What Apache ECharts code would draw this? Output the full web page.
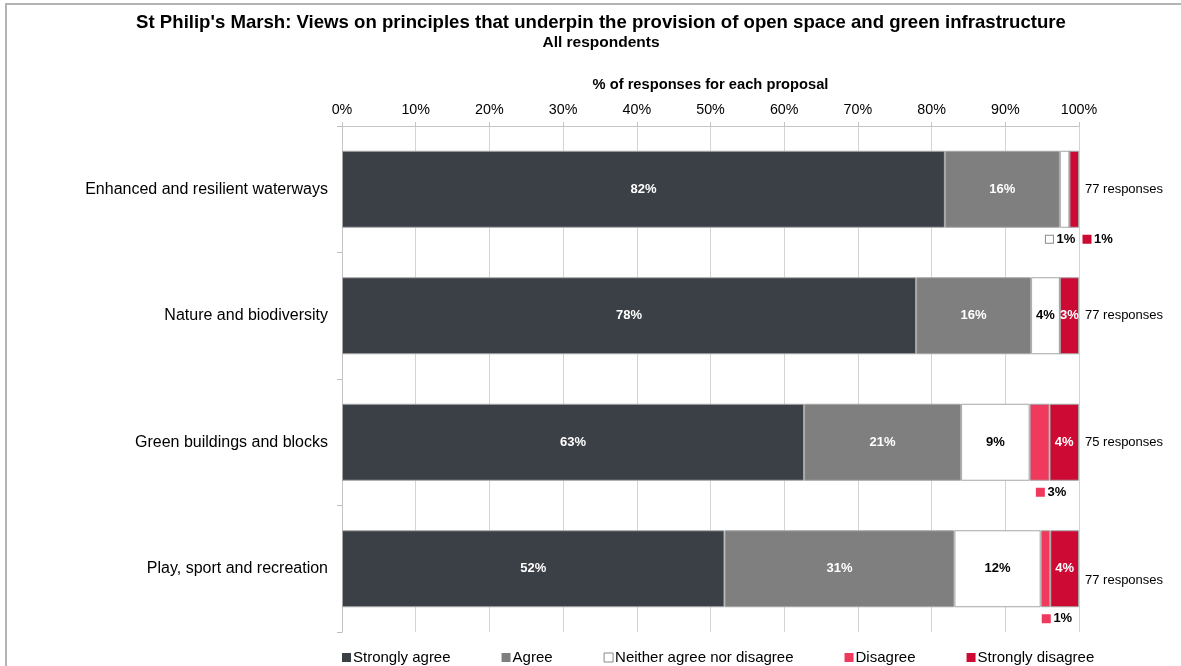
<!DOCTYPE html>
<html>
<head>
<meta charset="utf-8">
<script src="https://cdn.jsdelivr.net/npm/echarts@6/dist/echarts.min.js"></script>
<style>
  html, body { margin: 0; padding: 0; background: #fff; }
  #wrap { position: relative; width: 1181px; height: 666px; }
  #chart { position: absolute; left: 0; top: 0; width: 1181px; height: 666px; }
  #frame { position: absolute; left: 5px; top: 3px; right: 0; bottom: 0;
           border-top: 2px solid #b4b4b4; border-left: 2px solid #b4b4b4; pointer-events: none; }
</style>
</head>
<body>
<div id="wrap"><div id="chart"></div><div id="frame"></div></div>
<script>
// Principles, top to bottom
const categories = [
  'Enhanced and resilient waterways',
  'Nature and biodiversity',
  'Green buildings and blocks',
  'Play, sport and recreation'
];
const responseLabels = ['77 responses', '77 responses', '75 responses', '77 responses'];

// Share of responses (%) per principle
const stronglyAgree    = [81.8, 77.9, 62.7, 51.9];
const agree            = [15.6, 15.6, 21.3, 31.2];
const neither          = [1.3, 3.9, 9.3, 11.7];
const disagree         = [0, 0, 2.7, 1.3];
const stronglyDisagree = [1.3, 2.6, 4.0, 3.9];

const xTicks = ['0%', '10%', '20%', '30%', '40%', '50%', '60%', '70%', '80%', '90%', '100%'];

const seriesDefs = [
  { name: 'Strongly agree', values: stronglyAgree, color: '#3b3f46', text: '#fff' },
  { name: 'Agree', values: agree, color: '#7f7f7f', text: '#fff' },
  { name: 'Neither agree nor disagree', values: neither, color: '#ffffff', text: '#000' },
  { name: 'Disagree', values: disagree, color: '#ef3a5d', text: '#fff' },
  { name: 'Strongly disagree', values: stronglyDisagree, color: '#cc0a33', text: '#fff' }
];

const FONT = '"Liberation Sans", Arial, sans-serif';

// Small segments get their value printed beneath the bar with a colour key
function isOutside(si, v) {
  if (v <= 0) return false;
  if (si === 3) return true;
  if ((si === 2 || si === 4) && v < 2) return true;
  return false;
}

function buildData(si) {
  const def = seriesDefs[si];
  return def.values.map((v, ci) => {
    if (v <= 0) return { value: v, label: { show: false } };
    if (!isOutside(si, v)) return v;
    // when two keyed labels share a row, spread them apart
    const pairNeither = isOutside(2, neither[ci]);
    const pairSD = isOutside(4, stronglyDisagree[ci]);
    let dx = 12;
    if (pairNeither && pairSD) dx = (si === 2) ? -4 : 24;
    const isWhite = def.color === '#ffffff';
    return {
      value: v,
      label: {
        show: true,
        position: 'bottom',
        distance: 5,
        offset: [dx, 0],
        formatter: '{sq|}{t| ' + Math.round(v) + '%}',
        rich: {
          sq: { width: 7, height: 7, backgroundColor: def.color,
                borderColor: isWhite ? '#8a8a8a' : def.color, borderWidth: 1 },
          t: { fontFamily: FONT, fontSize: 13, fontWeight: 'bold', color: '#000' }
        }
      }
    };
  });
}

const series = seriesDefs.map((def, si) => ({
  name: def.name,
  type: 'bar',
  stack: 'total',
  barWidth: 77,
  yAxisIndex: 0,
  itemStyle: { color: def.color, borderColor: '#a6a6a6', borderWidth: 1 },
  label: {
    show: true,
    position: 'inside',
    fontFamily: FONT,
    fontSize: 13,
    fontWeight: 'bold',
    color: def.text,
    formatter: p => Math.round(p.value) + '%'
  },
  emphasis: { disabled: true },
  data: buildData(si)
}));

// Legend keys: plain squares, the white one outlined
const legendData = seriesDefs.map(d => ({
  name: d.name,
  itemStyle: d.color === '#ffffff'
    ? { color: d.color, borderColor: '#8a8a8a', borderWidth: 1 }
    : { color: d.color, borderWidth: 0 }
}));

const chart = echarts.init(document.getElementById('chart'), null, { renderer: 'canvas' });
chart.setOption({
  animation: false,
  backgroundColor: '#fff',
  textStyle: { fontFamily: FONT },
  title: {
    text: "St Philip's Marsh: Views on principles that underpin the provision of open space and green infrastructure",
    subtext: 'All respondents',
    left: 596,
    textAlign: 'center',
    top: 8,
    itemGap: 3,
    textStyle: { fontFamily: FONT, fontSize: 18.6, fontWeight: 'bold', color: '#000' },
    subtextStyle: { fontFamily: FONT, fontSize: 15.5, fontWeight: 'bold', color: '#000' }
  },
  legend: {
    data: legendData,
    left: 337,
    top: 645,
    itemWidth: 9,
    itemHeight: 9,
    itemGap: 51,
    icon: 'rect',
    textStyle: { fontFamily: FONT, fontSize: 15, color: '#000', padding: [0, 0, 0, -3] }
  },
  grid: { left: 342, right: 102, top: 126, bottom: 34, containLabel: false },
  xAxis: {
    type: 'value',
    position: 'top',
    min: 0,
    max: 100,
    interval: 10,
    name: '% of responses for each proposal',
    nameLocation: 'middle',
    nameGap: 34,
    nameTextStyle: { fontFamily: FONT, fontSize: 14.7, fontWeight: 'bold', color: '#000' },
    axisLine: { show: true, lineStyle: { color: '#c4c4c4', width: 1 } },
    axisTick: { show: true, length: 4, lineStyle: { color: '#c4c4c4' } },
    axisLabel: {
      fontFamily: FONT, fontSize: 14.3, color: '#000', margin: 9,
      formatter: v => xTicks[Math.round(v / 10)]
    },
    splitLine: { show: true, lineStyle: { color: '#d4d4d4', width: 1 } }
  },
  yAxis: [
    {
      type: 'category',
      data: categories,
      inverse: true,
      axisLine: { show: true, lineStyle: { color: '#c4c4c4' } },
      axisTick: { show: true, length: 5, lineStyle: { color: '#bdbdbd' } },
      axisLabel: { fontFamily: FONT, fontSize: 16, color: '#000', margin: 14 },
      splitLine: { show: false }
    },
    {
      type: 'category',
      data: responseLabels,
      inverse: true,
      position: 'right',
      axisLine: { show: false },
      axisTick: { show: false },
      axisLabel: {
        margin: 6,
        formatter: (val, idx) => idx === 3 ? '{low|' + val + '}' : '{n|' + val + '}',
        rich: {
          n: { fontFamily: FONT, fontSize: 13, color: '#000' },
          low: { fontFamily: FONT, fontSize: 13, color: '#000', padding: [24, 0, 0, 0] }
        }
      }
    }
  ],
  series: series
});
</script>
</body>
</html>
